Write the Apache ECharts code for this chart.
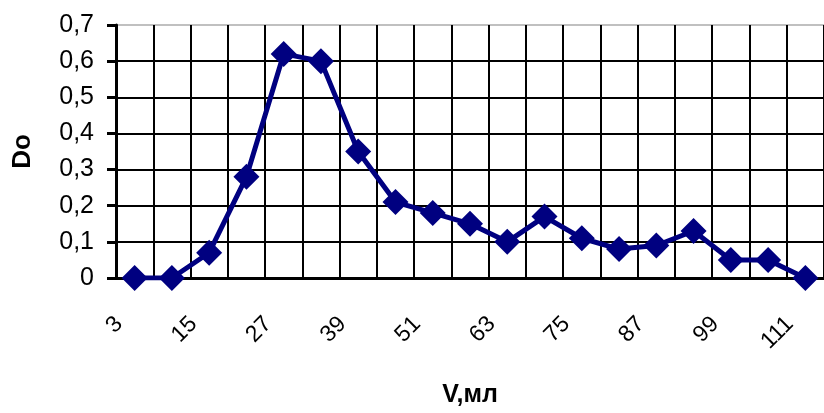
<!DOCTYPE html>
<html><head><meta charset="utf-8">
<script src="https://cdn.jsdelivr.net/npm/echarts@6/dist/echarts.min.js"></script>
<style>html,body{margin:0;padding:0;background:#fff}#c{width:824px;height:413px}</style>
</head><body><div id="c"></div>
<script>
const categories = ['3','9','15','21','27','33','39','45','51','57','63','69','75','81','87','93','99','105','111'];
const values = [0, 0, 0.07, 0.28, 0.62, 0.60, 0.35, 0.21, 0.18, 0.15, 0.10, 0.17, 0.11, 0.08, 0.09, 0.13, 0.05, 0.05, 0];
const yName = 'Do';
const xName = 'V,мл';

const chart = echarts.init(document.getElementById('c'), null, {renderer: 'canvas'});
const font = '"Liberation Sans", Arial, sans-serif';
chart.setOption({
  animation: false,
  grid: {left: 116, top: 25, width: 711, height: 255},
  xAxis: {
    type: 'category', data: categories, boundaryGap: true,
    name: xName, nameLocation: 'middle', nameGap: 105,
    nameTextStyle: {fontFamily: font, fontSize: 25, fontWeight: 'bold', color: '#000'},
    axisLine: {lineStyle: {color: '#000', width: 3}},
    axisTick: {interval: 0, length: 9, lineStyle: {color: '#000', width: 3}},
    axisLabel: {interval: 1, rotate: 45, margin: 27, padding: [0, 22, 0, 0],
      fontFamily: font, fontSize: 23, color: '#000'},
    splitLine: {show: true, interval: 0, lineStyle: {color: '#000', width: 2}}
  },
  yAxis: {
    type: 'value', min: 0, max: 0.7, interval: 0.1,
    name: yName, nameLocation: 'middle', nameGap: 80, nameRotate: 90,
    nameTextStyle: {fontFamily: font, fontSize: 26, fontWeight: 'bold', color: '#000'},
    axisLine: {show: true, lineStyle: {color: '#000', width: 3}},
    axisTick: {show: true, length: 9, lineStyle: {color: '#000', width: 3}},
    axisLabel: {margin: 22, fontFamily: font, fontSize: 25, color: '#000',
      formatter: v => String(Math.round(v * 10) / 10).replace('.', ',')},
    splitLine: {show: true, lineStyle: {color: ['#000','#000','#000','#000','#000','#000','#000','#c0c0c0'], width: 2}}
  },
  series: [{
    type: 'line', data: values,
    showAllSymbol: true,
    lineStyle: {color: '#000080', width: 5},
    itemStyle: {color: '#000080'},
    symbol: 'diamond', symbolSize: [26, 26]
  }]
});
</script></body></html>
